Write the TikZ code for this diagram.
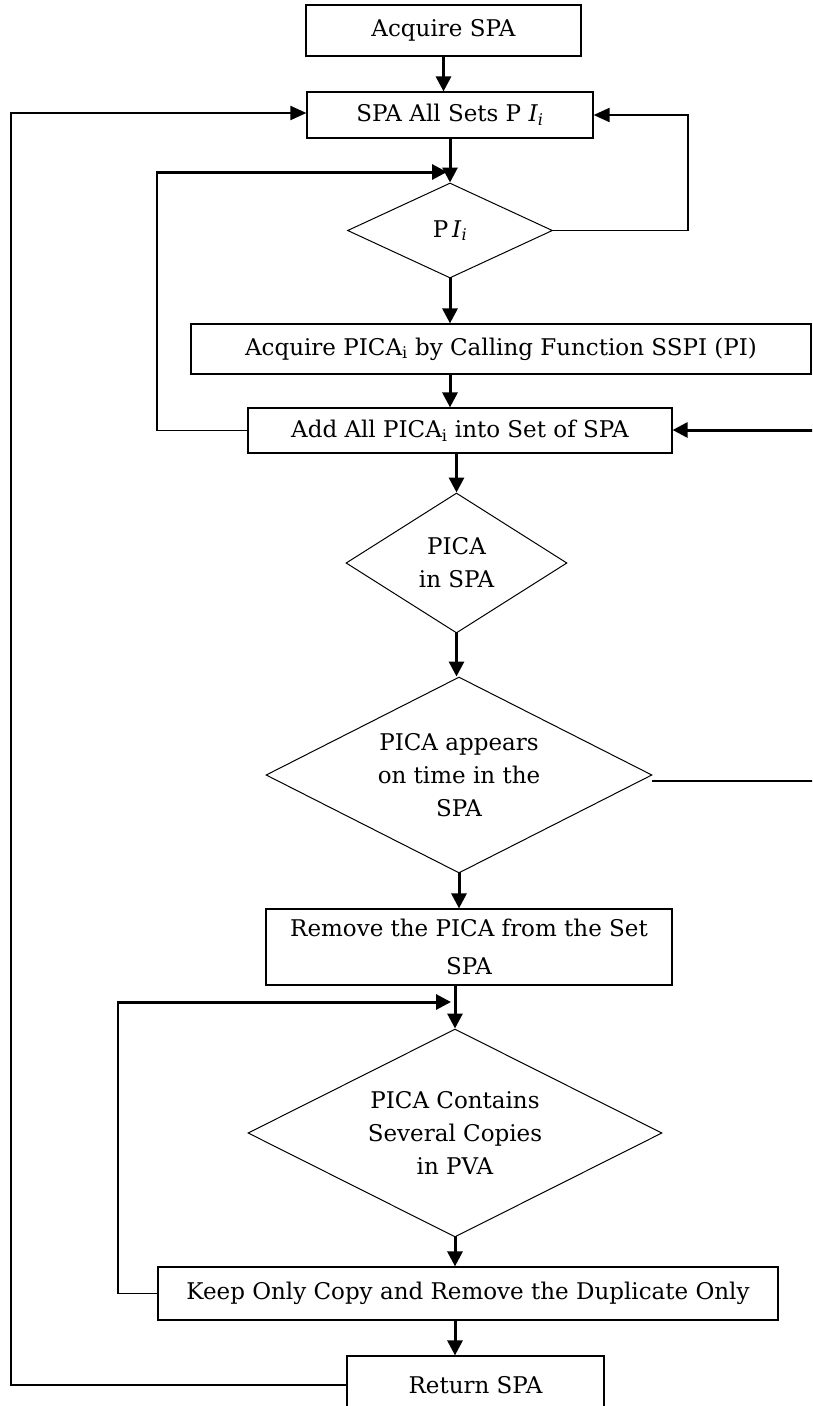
\documentclass[tikz,border=0pt]{standalone}
\usepackage{fontspec}
\setmainfont{DejaVu Serif}
\usetikzlibrary{shapes.geometric}
\usetikzlibrary{arrows.meta}

\begin{document}
\begin{tikzpicture}[x=1pt,y=-1pt,line cap=rect,
	procbox/.style={draw, rectangle, line width=1.2pt, inner sep=0, align=center, font=\fontsize{23pt}{38pt}\selectfont},
	decision/.style={draw, diamond, line width=1.0pt, inner sep=0},
	dectext/.style={align=center, font=\fontsize{23pt}{33pt}\selectfont},
	flowarrow/.style={line width=3pt, -{Triangle[length=15pt,width=15pt]}},
	looparrow/.style={line width=2pt, -{Triangle[length=16pt,width=14pt]}},
	flowline/.style={line width=1.2pt}]
	\clip (0,0) rectangle (812,1406);
	% boxes and decisions
	\node[procbox, minimum width=275, minimum height=51] (acqspa) at (443.5,30.5) {Acquire SPA};
	\node[procbox, minimum width=286, minimum height=46] (allsets) at (450,115) {SPA All Sets P \textit{I}\textsubscript{\textit{i}}};
	\node[decision, minimum width=205, minimum height=95, label={[dectext]center:P\,\textit{I}\textsubscript{\textit{i}}}] (pidec) at (450,230.5) {};
	\node[procbox, minimum width=620, minimum height=50] (acqpica) at (501,349) {Acquire PICA\textsubscript{i} by Calling Function SSPI (PI)};
	\node[procbox, minimum width=424, minimum height=45] (addpica) at (460,430.5) {Add All PICA\textsubscript{i} into Set of SPA};
	\node[decision, minimum width=221, minimum height=140, label={[dectext]center:PICA\\in SPA}] (inspa) at (456.5,563) {};
	\node[decision, minimum width=386, minimum height=196, label={[dectext]center:PICA appears\\on time in the\\SPA}] (appears) at (459,775) {};
	\node[procbox, minimum width=406, minimum height=76] (rempica) at (469,947) {Remove the PICA from the Set\\SPA};
	\node[decision, minimum width=414, minimum height=208, label={[dectext]center:PICA Contains\\Several Copies\\in PVA}] (copies) at (455,1133) {};
	\node[procbox, minimum width=620, minimum height=53] (keeponly) at (468,1293.5) {Keep Only Copy and Remove the Duplicate Only};
	\node[procbox, minimum width=257, minimum height=58] (retspa) at (475.5,1385) {Return SPA};
	% loop corners
	\coordinate (loopa) at (157,172);
	\coordinate (loopb) at (118,1002);
	\coordinate (loopc) at (11,113);
	\coordinate (pright) at (688,115);
	\coordinate (aright) at (822,430);
	% main flow
	\draw[flowarrow] (acqspa.south) -- (acqspa.south |- allsets.north);
	\draw[flowarrow] (allsets.south) -- (allsets.south |- pidec.north);
	\draw[flowarrow] (pidec.south) -- (pidec.south |- acqpica.north);
	\draw[flowarrow] (pidec.south |- acqpica.south) -- (pidec.south |- addpica.north);
	\draw[flowarrow] (inspa.north |- addpica.south) -- (inspa.north);
	\draw[flowarrow] (inspa.south) -- (inspa.south |- appears.north);
	\draw[flowarrow] (appears.south) -- (appears.south |- rempica.north);
	\draw[flowarrow] (copies.north |- rempica.south) -- (copies.north);
	\draw[flowarrow] (copies.south) -- (copies.south |- keeponly.north);
	\draw[flowarrow] (copies.south |- keeponly.south) -- (copies.south |- retspa.north);
	% loops
	\draw[flowline] (addpica.west) -| (loopa);
	\draw[flowarrow] (loopa) -- ([xshift=-3pt]pidec.north |- loopa);
	\draw[flowline] (pidec.east) -| (pright);
	\draw[looparrow] (pright) -- (allsets.east);
	\draw[flowline] ([yshift=-6pt]appears.east) -| (aright);
	\draw[flowarrow] (aright) -- (aright -| addpica.east);
	\draw[flowline] (keeponly.west) -| (loopb);
	\draw[flowarrow] (loopb) -- ([xshift=-4pt]copies.north |- loopb);
	\draw[flowline] (loopc |- retspa.west) -- (retspa.west);
	\draw[flowline] (loopc |- retspa.west) -- (loopc);
	\draw[looparrow] (loopc) -- (loopc -| allsets.west);
\end{tikzpicture}
\end{document}
